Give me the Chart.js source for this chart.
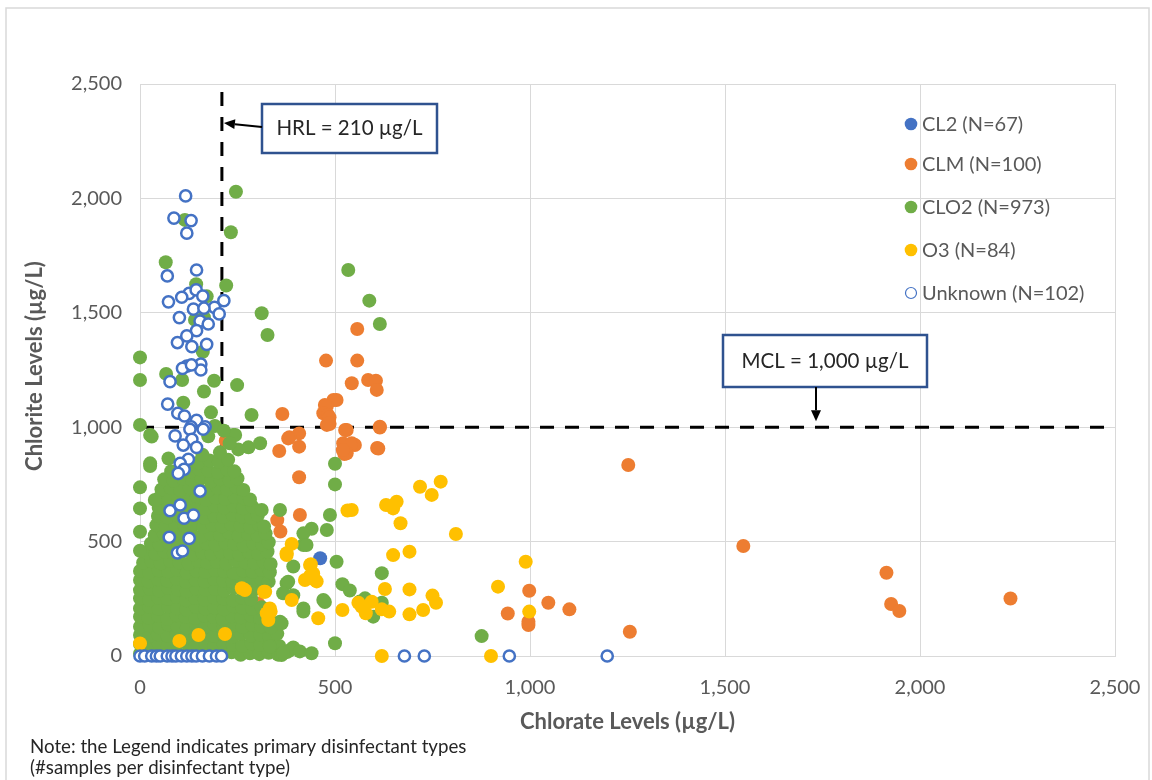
<!DOCTYPE html>
<html>
<head>
<meta charset="utf-8">
<script src="https://cdn.jsdelivr.net/npm/chart.js@4/dist/chart.umd.min.js"></script>
<style>
  html, body { margin: 0; padding: 0; background: #ffffff; }
  canvas { display: block; }
</style>
</head>
<body>
<canvas id="c" width="1152" height="780" style="width:1152px;height:780px"></canvas>
<script>
// Chlorate (x) vs chlorite (y) levels in µg/L, one list per primary disinfectant type.
const seriesNames = ['CL2 (N=67)', 'CLM (N=100)', 'CLO2 (N=973)', 'O3 (N=84)', 'Unknown (N=102)'];

const cl2 = [
  [462,427],[18,210],[95,150],[150,300],[200,420],[120,520],[250,200],[60,80],
  [180,620],[230,350],[90,380],[270,120],[140,60],[210,700],[40,300]
];

const clm = [
  [557,1429],[477,1291],[557,1291],[543,1192],[585,1206],[605,1203],[607,1163],
  [504,1119],[496,1119],[479,1093],[474,1097],[470,1061],[482,1053],[486,1043],
  [486,1014],[479,1010],[485,1017],[615,1002],[615,999],[530,988],[526,988],
  [543,930],[521,930],[551,922],[540,922],[524,883],[530,886],[520,900],
  [608,909],[611,907],[408,973],[383,956],[408,915],[380,951],[357,896],
  [365,1058],[408,781],[410,616],[352,594],[360,544],[303,230],[220,941],
  [1252,835],[998,285],[1047,233],[1101,204],[943,186],[996,135],[996,150],
  [1256,106],[1547,481],[1914,364],[1926,227],[1947,197],[2232,251]
];

const clo2 = [
  // dense band near the origin
  [0,10],[21,5],[45,14],[68,3],[92,12],[116,6],[140,15],[163,4],[187,11],[211,7],[235,16],[258,5],[282,12],[306,8],[330,14],[354,6],[378,18],
  [0,52],[24,47],[48,55],[71,44],[95,50],[119,58],[143,46],[167,53],[190,42],[214,57],[238,49],[262,45],[286,56],[309,48],[333,54],[357,44],
  [0,92],[23,86],[46,95],[70,88],[94,97],[118,84],[141,92],[165,99],[189,87],[213,94],[236,83],[260,96],[284,89],[308,93],[332,85],[352,98],
  [0,128],[25,134],[49,126],[72,137],[96,131],[120,124],[144,135],[168,129],[191,138],[215,126],[239,133],[263,127],[287,136],[311,130],[335,125],
  [0,172],[22,167],[46,175],[70,164],[94,178],[117,170],[141,166],[165,176],[189,171],[212,163],[236,174],[260,169],[284,177],[308,166],[330,173],
  [0,208],[24,214],[48,205],[72,216],[95,209],[119,203],[143,215],[167,207],[191,212],[215,204],[239,217],[263,210],[287,206],[312,213],
  [0,252],[23,246],[47,255],[71,249],[95,258],[118,244],[142,253],[166,247],[190,256],[214,250],[238,243],[262,254],[285,248],
  [0,288],[25,294],[49,285],[73,297],[97,291],[120,283],[144,296],[168,289],[192,293],[216,286],[240,298],[264,290],[288,284],[305,297],
  [0,332],[22,326],[46,335],[70,329],[94,338],[118,324],[142,333],[166,327],[190,336],[214,330],[238,323],[262,334],[286,328],[310,337],[330,325],
  [0,372],[24,366],[48,375],[72,369],[96,378],[120,364],[144,373],[168,367],[192,376],[216,370],[240,363],[264,374],[288,368],[312,377],[333,366],
  [8,408],[30,414],[53,405],[77,416],[101,409],[125,403],[149,415],[173,407],[197,412],[221,404],[245,417],[269,410],[293,406],[317,413],[335,402],
  [18,452],[40,446],[63,455],[87,449],[111,458],[135,444],[159,453],[183,447],[207,456],[231,450],[255,443],[279,454],[303,448],[327,457],
  [28,492],[50,486],[74,495],[98,489],[122,498],[146,484],[170,493],[194,487],[218,496],[242,490],[266,483],[290,494],[314,488],[330,497],
  [38,528],[61,534],[85,525],[109,537],[133,531],[157,523],[181,535],[205,529],[229,538],[253,526],[277,533],[301,527],[322,536],
  [42,572],[66,566],[90,575],[114,569],[138,578],[162,564],[186,573],[210,567],[234,576],[258,570],[282,563],[305,574],[318,566],
  [46,612],[70,606],[94,615],[118,609],[142,618],[166,604],[190,613],[214,607],[238,616],[262,610],[286,603],[302,615],
  [48,648],[72,654],[96,645],[120,657],[144,651],[168,643],[192,655],[216,649],[240,658],[264,646],[288,653],
  [50,692],[74,686],[98,695],[122,689],[146,698],[170,684],[194,693],[218,687],[242,696],[266,690],[282,684],
  [55,728],[79,734],[103,725],[127,737],[151,731],[175,723],[199,735],[223,729],[247,738],[265,726],
  [62,772],[86,766],[110,775],[134,769],[158,778],[182,764],[206,773],[230,767],[250,776],
  [80,808],[104,814],[128,805],[152,816],[176,809],[200,803],[224,815],[242,807],
  [125,852],[150,846],[178,855],[202,849],[226,858],
  // scattered samples
  [246,2029],[233,1852],[66,1721],[221,1619],[144,1625],[171,1572],[312,1498],[327,1403],
  [534,1687],[588,1553],[615,1451],[0,1305],[67,1233],[115,1906],[164,1480],[161,1330],[141,1469],
  [0,1206],[108,1206],[190,1203],[164,1156],[249,1184],[111,1107],[182,1065],[286,1053],
  [0,1010],[192,1005],[30,959],[26,966],[239,966],[244,966],[278,912],[308,930],[252,903],
  [26,830],[26,842],[73,863],[160,880],[205,890],[230,930],[175,960],[215,985],
  [0,737],[38,682],[0,645],[0,543],[0,460],
  [500,840],[500,750],[487,616],[479,551],[440,556],[419,536],[419,485],[427,485],[359,638],[312,638],
  [504,412],[620,362],[519,314],[538,286],[577,252],[620,233],[598,172],[474,236],[470,245],
  [419,208],[419,194],[376,318],[380,325],[393,391],[367,274],[393,266],[359,150],[363,143],
  [500,56],[393,37],[385,26],[333,41],[363,4],[367,13],[410,20],[440,12],[876,87],[564,238]
];

const o3 = [
  [718,740],[771,762],[748,704],[631,660],[658,674],[649,645],[668,580],[543,638],[532,636],
  [649,441],[691,456],[628,293],[691,291],[750,264],[759,233],[726,201],[691,182],[639,194],
  [620,204],[579,187],[568,216],[560,233],[594,237],[519,201],[457,165],[438,401],[436,398],
  [423,332],[449,332],[436,350],[444,361],[453,326],[389,490],[376,441],[376,449],[389,245],
  [321,281],[318,281],[335,194],[325,187],[333,208],[329,157],[261,296],[269,288],
  [810,533],[989,412],[918,303],[998,194],[0,55],[101,66],[150,92],[218,96],
  [620,0],[900,0]
];

const unknown = [
  [117,2011],[87,1914],[131,1903],[120,1848],[145,1687],[70,1661],[126,1585],[107,1568],
  [144,1600],[161,1573],[73,1548],[215,1553],[191,1524],[203,1495],[137,1516],[164,1520],
  [101,1479],[154,1464],[175,1451],[145,1422],[120,1399],[96,1370],[171,1362],[133,1352],
  [120,1267],[156,1276],[109,1257],[156,1250],[132,1272],[77,1199],[71,1101],[97,1061],
  [114,1049],[145,1030],[131,1002],[167,1002],[162,991],[128,991],[90,962],[133,947],
  [111,922],[145,912],[124,860],[103,842],[113,816],[98,798],[154,721],[77,635],[103,660],
  [113,602],[137,616],[75,519],[126,514],[96,451],[109,459],
  [0,0],[12,0],[30,0],[42,0],[52,0],[70,0],[82,0],[92,0],[106,0],[120,0],[133,0],[144,0],
  [160,0],[178,0],[196,0],[209,0],[678,0],[729,0],[947,0],[1198,0]
];

const axisTicks = [0, 500, 1000, 1500, 2000, 2500];
const hrlValue = 210;   // health reference level, chlorate
const mclValue = 1000;  // maximum contaminant level, chlorite

const seriesColors = ['#4472C4', '#ED7D31', '#70AD47', '#FFC000', '#4472C4'];
const FONT = 'Lato, "Open Sans", sans-serif';
const GRID = '#D9D9D9';
const TEXT_GRAY = '#595959';

const toPoints = arr => arr.map(([x, y]) => ({ x, y }));

function dotSet(label, data, color, order) {
  return {
    label, data: toPoints(data), order, clip: false,
    backgroundColor: color, borderColor: color, borderWidth: 0,
    pointRadius: 7, pointHoverRadius: 7, showLine: false
  };
}

const datasets = [
  dotSet(seriesNames[0], cl2, seriesColors[0], 4),
  dotSet(seriesNames[1], clm, seriesColors[1], 3),
  dotSet(seriesNames[2], clo2, seriesColors[2], 2),
  dotSet(seriesNames[3], o3, seriesColors[3], 1),
  {
    label: seriesNames[4], data: toPoints(unknown), order: 0, clip: false,
    backgroundColor: '#FFFFFF', borderColor: seriesColors[4], borderWidth: 2.5,
    pointRadius: 5.6, pointHoverRadius: 5.6, showLine: false
  },
  {
    label: 'HRL', data: [{ x: hrlValue, y: 0 }, { x: hrlValue, y: 2500 }], order: 6,
    showLine: true, pointRadius: 0, borderColor: '#000000', borderWidth: 3,
    borderDash: [14, 11], fill: false
  },
  {
    label: 'MCL', data: [{ x: 0, y: mclValue }, { x: 2500, y: mclValue }], order: 5,
    showLine: true, pointRadius: 0, borderColor: '#000000', borderWidth: 3,
    borderDash: [14, 11], fill: false
  }
];

function arrow(ctx, x1, y1, x2, y2) {
  const ang = Math.atan2(y2 - y1, x2 - x1);
  const head = 11, half = 5;
  const bx = x2 - head * Math.cos(ang), by = y2 - head * Math.sin(ang);
  ctx.beginPath();
  ctx.moveTo(x1, y1);
  ctx.lineTo(bx, by);
  ctx.strokeStyle = '#000000';
  ctx.lineWidth = 2;
  ctx.stroke();
  ctx.beginPath();
  ctx.moveTo(x2, y2);
  ctx.lineTo(bx + half * Math.sin(ang), by - half * Math.cos(ang));
  ctx.lineTo(bx - half * Math.sin(ang), by + half * Math.cos(ang));
  ctx.closePath();
  ctx.fillStyle = '#000000';
  ctx.fill();
}

function labelBox(ctx, x, y, w, h, text) {
  ctx.fillStyle = '#FFFFFF';
  ctx.fillRect(x, y, w, h);
  ctx.strokeStyle = '#2F528F';
  ctx.lineWidth = 2.5;
  ctx.strokeRect(x, y, w, h);
  ctx.fillStyle = '#262626';
  ctx.font = '20.5px ' + FONT;
  ctx.textAlign = 'center';
  ctx.textBaseline = 'middle';
  ctx.fillText(text, x + w / 2, y + h / 2);
}

const decorations = {
  id: 'decorations',
  beforeDraw(chart) {
    const ctx = chart.ctx;
    ctx.save();
    ctx.fillStyle = '#FFFFFF';
    ctx.fillRect(0, 0, chart.width, chart.height);
    ctx.strokeStyle = '#D9D9D9';
    ctx.lineWidth = 1.5;
    ctx.strokeRect(6, 8, chart.width - 9, chart.height + 20);
    ctx.restore();
  },
  afterDraw(chart) {
    const ctx = chart.ctx;
    const { x, y } = chart.scales;
    const area = chart.chartArea;
    ctx.save();

    // axis titles
    ctx.fillStyle = TEXT_GRAY;
    ctx.font = 'bold 22px ' + FONT;
    ctx.textAlign = 'center';
    ctx.textBaseline = 'middle';
    ctx.fillText('Chlorate Levels (µg/L)', (area.left + area.right) / 2, 722);
    ctx.save();
    ctx.translate(35, 366);
    ctx.rotate(-Math.PI / 2);
    ctx.fillText('Chlorite Levels (µg/L)', 0, 0);
    ctx.restore();

    // legend
    const rows = [124, 164, 207, 250, 293];
    ctx.font = '20px ' + FONT;
    ctx.textAlign = 'left';
    seriesNames.forEach((name, i) => {
      ctx.beginPath();
      if (i === 4) {
        ctx.arc(911, rows[i], 5.5, 0, Math.PI * 2);
        ctx.fillStyle = '#FFFFFF';
        ctx.fill();
        ctx.lineWidth = 1.2;
        ctx.strokeStyle = seriesColors[i];
        ctx.stroke();
      } else {
        ctx.arc(911, rows[i], 6.3, 0, Math.PI * 2);
        ctx.fillStyle = seriesColors[i];
        ctx.fill();
      }
      ctx.fillStyle = TEXT_GRAY;
      ctx.fillText(name, 922, rows[i] + 1);
    });

    // reference level call-outs
    const hx = x.getPixelForValue(hrlValue);
    const my = y.getPixelForValue(mclValue);
    labelBox(ctx, 262, 104, 175, 49, 'HRL = 210 µg/L');
    arrow(ctx, 262, 127, hx + 2, 123);
    labelBox(ctx, 723, 335, 204, 52, 'MCL = 1,000 µg/L');
    arrow(ctx, 816, 387, 816, my - 6);

    // footnote
    ctx.fillStyle = '#262626';
    ctx.font = '18.7px ' + FONT;
    ctx.textAlign = 'left';
    ctx.fillText('Note: the Legend indicates primary disinfectant types', 30, 747);
    ctx.fillText('(#samples per disinfectant type)', 30, 768);
    ctx.restore();
  }
};

const tickFont = { family: FONT, size: 20 };

new Chart(document.getElementById('c'), {
  type: 'scatter',
  data: { datasets },
  options: {
    responsive: false,
    animation: false,
    events: [],
    layout: { padding: { left: 0, right: 37, top: 84, bottom: 0 } },
    plugins: { legend: { display: false }, tooltip: { enabled: false } },
    scales: {
      x: {
        type: 'linear', min: 0, max: 2500,
        afterBuildTicks: s => { s.ticks = axisTicks.map(v => ({ value: v })); },
        afterFit: s => { s.height = 124; s.paddingLeft = 0; s.paddingRight = 0; },
        ticks: { font: tickFont, color: TEXT_GRAY, padding: 20, maxRotation: 0,
                 callback: v => v.toLocaleString('en-US') },
        grid: { color: GRID, lineWidth: 1, drawTicks: false },
        border: { color: GRID, width: 1 }
      },
      y: {
        type: 'linear', min: 0, max: 2500,
        afterBuildTicks: s => { s.ticks = axisTicks.map(v => ({ value: v })); },
        afterFit: s => { s.width = 140; s.paddingTop = 0; s.paddingBottom = 0; },
        ticks: { font: tickFont, color: TEXT_GRAY, padding: 18,
                 callback: v => v.toLocaleString('en-US') },
        grid: { color: GRID, lineWidth: 1, drawTicks: false },
        border: { color: GRID, width: 1 }
      }
    }
  },
  plugins: [decorations]
});
</script>
</body>
</html>
